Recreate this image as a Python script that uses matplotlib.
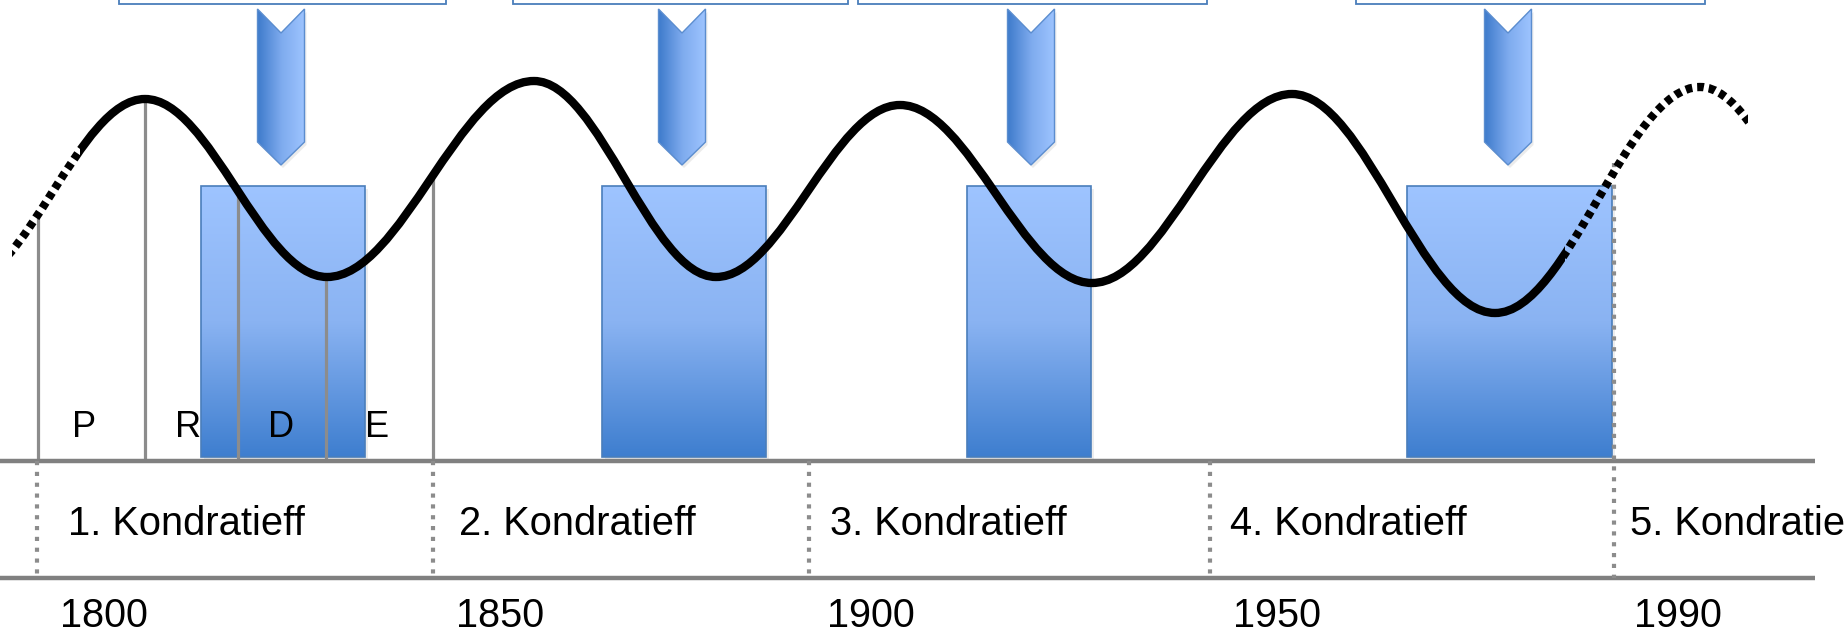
import numpy as np
import matplotlib.pyplot as plt
from matplotlib.path import Path
from matplotlib.patches import PathPatch, Rectangle, Polygon
from matplotlib.colors import LinearSegmentedColormap
from matplotlib.transforms import Affine2D

plt.rcParams['font.family'] = ['Liberation Sans', 'DejaVu Sans']

# long wave: extremes of the schematic curve (diagram units, y grows downwards)
wave_x = [-40, 145, 327, 534, 716, 900, 1092, 1292, 1495, 1700, 1880]
wave_y = [285, 99, 277, 81, 277, 105, 283, 94, 313, 87, 290]
wave_start, solid_from, solid_to, wave_end = 12, 80, 1565, 1748

# phases of the first cycle
phase_x = [38, 145, 238, 326, 433]
phase_top = [212, 100, 196, 277, 178]
phase_labels = ['P', 'R', 'D', 'E']
phase_label_x = [84, 188, 281, 377]

# depression blocks, arrows and (cut off) boxes on top
boom_x0 = [201, 602, 967, 1407]
boom_x1 = [365, 766, 1091, 1612]
arrow_x = [281, 682, 1031, 1508]
box_x0 = [119, 513, 858, 1356]
box_x1 = [446, 848, 1207, 1705]

# cycle band
cycle_x = [37, 433, 809, 1210, 1614]
cycle_labels = ['1. Kondratieff', '2. Kondratieff', '3. Kondratieff',
                '4. Kondratieff', '5. Kondratieff']
cycle_label_x = [68, 459, 830, 1230, 1630]
years = ['1800', '1850', '1900', '1950', '1990']
year_x = [104, 500, 871, 1277, 1678]

base_y, band_y = 461, 578
blk_top, blk_bot = 186, 457

fig = plt.figure(figsize=(18.45, 6.41), dpi=100)
ax = fig.add_axes([0, 0, 1, 1])
ax.axis('off')

blue_v = LinearSegmentedColormap.from_list('bv', ['#9ec4ff', '#8ab3f2', '#3e7ecf'])
blue_h = LinearSegmentedColormap.from_list('bh', ['#3f7ccc', '#7eabee', '#9ec4ff'])
edge = '#4a7ebb'

# boxes at the top (only their lower part is visible)
for x0, x1 in zip(box_x0, box_x1):
    ax.add_patch(Rectangle((x0, -60), x1 - x0, 64, fc='white', ec=edge, lw=1.3, zorder=1))

# arrows
w = 23.5
grad_h = np.linspace(0, 1, 256).reshape(1, -1)
for cx in arrow_x:
    pts = [(cx - w, 9), (cx, 33), (cx + w, 9), (cx + w, 142), (cx, 165), (cx - w, 142)]
    ax.add_patch(Polygon(pts, closed=True, fc='#d9d9d9', ec='none', alpha=0.5,
                         transform=ax.transData + Affine2D().translate(2, -3),
                         zorder=1))
    poly = Polygon(pts, closed=True, fc='none', ec='#5b8dcf', lw=1.0, zorder=3)
    ax.add_patch(poly)
    im = ax.imshow(grad_h, cmap=blue_h, extent=(cx - w, cx + w, 165, 9),
                   aspect='auto', zorder=2, interpolation='bicubic')
    im.set_clip_path(poly)

# depression blocks
grad_v = np.linspace(0, 1, 256).reshape(-1, 1)
for x0, x1 in zip(boom_x0, boom_x1):
    ax.add_patch(Rectangle((x0 + 3, blk_top + 3), x1 - x0, blk_bot - blk_top,
                           fc='#cccccc', ec='none', alpha=0.35, zorder=1))
    ax.imshow(grad_v, cmap=blue_v, extent=(x0, x1, blk_bot, blk_top),
              aspect='auto', zorder=2, interpolation='bicubic')
    ax.add_patch(Rectangle((x0, blk_top), x1 - x0, blk_bot - blk_top,
                           fc='none', ec=edge, lw=1.2, zorder=3))

# phase lines of the first cycle
ax.vlines(phase_x, phase_top, base_y, color='#8c8c8c', lw=2.3, zorder=4)
for lab, x in zip(phase_labels, phase_label_x):
    ax.text(x, 437, lab, fontsize=26, ha='center', va='baseline', color='black', zorder=6)

# band lines and dotted dividers
ax.hlines([base_y, band_y], 0, 1815, color='#808080', lw=3.2, zorder=4)
for i, x in enumerate(cycle_x):
    top = 163 if i == len(cycle_x) - 1 else base_y
    ax.plot([x, x], [top, band_y], color='#8c8c8c', lw=3.0,
            ls=(0, (1.0, 1.6)), zorder=4)

for lab, x in zip(cycle_labels, cycle_label_x):
    ax.text(x, 535, lab, fontsize=28.7, ha='left', va='baseline', color='black', zorder=6)
for lab, x in zip(years, year_x):
    ax.text(x, 627, lab, fontsize=28.5, ha='center', va='baseline', color='black', zorder=6)

# the wave as a chain of cubic Bezier half-waves
k = 0.36
verts = [(wave_x[0], wave_y[0])]
codes = [Path.MOVETO]
for i in range(len(wave_x) - 1):
    x0, y0, x1, y1 = wave_x[i], wave_y[i], wave_x[i + 1], wave_y[i + 1]
    dx = x1 - x0
    verts += [(x0 + k * dx, y0), (x1 - k * dx, y1), (x1, y1)]
    codes += [Path.CURVE4] * 3
wave = Path(verts, codes)

lw_wave = 6.0
solid = PathPatch(wave, fill=False, ec='black', lw=lw_wave, capstyle='butt', zorder=5)
ax.add_patch(solid)
solid.set_clip_path(Rectangle((solid_from, -100), solid_to - solid_from, 900,
                              transform=ax.transData))
for a, b in [(wave_start, solid_from), (solid_to, wave_end)]:
    dots = PathPatch(wave, fill=False, ec='black', lw=lw_wave, capstyle='butt',
                     ls=(0, (0.8, 0.6)), zorder=5)
    ax.add_patch(dots)
    dots.set_clip_path(Rectangle((a, -100), b - a, 900, transform=ax.transData))

ax.set_xlim(0, 1845)
ax.set_ylim(641, 0)
fig.savefig('out.png', dpi=100)
